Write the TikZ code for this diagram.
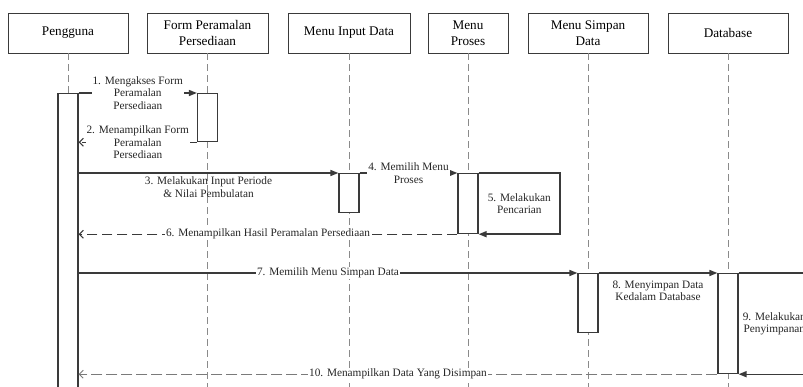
\documentclass[tikz,border=0pt]{standalone}
\usepackage{fontspec}
\setmainfont{Liberation Serif}
\usetikzlibrary{arrows.meta,calc}

\definecolor{ink}{HTML}{3A3A3A}
\definecolor{lifegray}{HTML}{8A8A8A}
\definecolor{retgray}{HTML}{7A7A7A}

\tikzset{
  headbox/.style={draw=ink, line width=0.9pt, fill=white, minimum height=40pt,
    align=center, font=\fontsize{13.2}{16.5}\selectfont, inner sep=2pt},
  actbar/.style={draw=ink, line width=1.2pt, fill=white, minimum width=20pt,
    inner sep=0pt, anchor=north},
  lifeline/.style={draw=lifegray, line width=0.9pt, dash pattern=on 7pt off 4pt},
  callmsg/.style={draw=ink, line width=1.4pt, -{Triangle[length=8pt,width=6pt]}},
  retmsg/.style={draw=ink, line width=1.1pt, dash pattern=on 10pt off 5pt,
    -{Straight Barb[length=4pt,width=8pt]}},
  retlight/.style={draw=retgray, line width=0.9pt, dash pattern=on 11pt off 4pt,
    -{Straight Barb[length=4pt,width=8pt]}},
  msglabel/.style={font=\fontsize{11.3}{12.5}\selectfont, align=center,
    inner sep=1pt, text=black!85},
  onlabel/.style={msglabel, fill=white},
}

\begin{document}
\begin{tikzpicture}[x=1pt,y=-1pt]
\useasboundingbox (0,0) rectangle (803,387);
\clip (0,0) rectangle (803,387);
\fill[white] (0,0) rectangle (803,387);

% participants
\node[headbox, minimum width=120pt] (peng) at (68,33)    {Pengguna};
\node[headbox, minimum width=121pt] (form) at (207.5,33) {Form Peramalan\\Persediaan};
\node[headbox, minimum width=122pt] (inp)  at (349,33)   {Menu Input Data};
\node[headbox, minimum width=80pt]  (pros) at (468,33)   {Menu\\Proses};
\node[headbox, minimum width=120pt] (simp) at (588,33)   {Menu Simpan\\Data};
\node[headbox, minimum width=120pt] (db)   at (728,33)   {Database};

\coordinate (bottom) at (0,400);

% lifelines
\foreach \p in {peng,form,inp,pros,simp,db}
  \draw[lifeline] (\p.south) -- (\p.south |- bottom);

% activation bars
\node[actbar, minimum height=320pt] (pA)  at (68,93)    {};
\node[actbar, minimum height=48pt]  (fA)  at (207.5,93) {};
\node[actbar, minimum height=39pt]  (iA)  at (349,173)  {};
\node[actbar, minimum height=60pt]  (prA) at (468,173)  {};
\node[actbar, minimum height=59pt]  (sA)  at (588,273)  {};
\node[actbar, minimum height=100pt] (dA)  at (728,273)  {};

\coordinate (loopA) at (560,173);
\coordinate (loopB) at (810,273);

% 1
\draw[callmsg] (pA.east |- fA.north) -- (fA.north west)
  node[onlabel, midway] {1. Mengakses Form\\Peramalan\\Persediaan};
% 2
\draw[retmsg] (fA.south west) -- (pA.east |- fA.south)
  node[onlabel, midway] {2. Menampilkan Form\\Peramalan\\Persediaan};
% 3
\draw[callmsg] (pA.east |- iA.north) -- (iA.north west)
  node[msglabel, midway, below=2pt] {3. Melakukan Input Periode\\\& Nilai Pembulatan};
% 4
\draw[callmsg] (iA.north east) -- (prA.north west)
  node[onlabel, midway] {4. Memilih Menu\\Proses};
% 5
\draw[callmsg] (prA.north east) -- (loopA) |- (prA.south east);
\node[msglabel] (l5) at ($(prA.east)!0.5!(loopA |- prA.east)$) {5. Melakukan\\Pencarian};
% 6
\draw[retmsg] (prA.south west) -- (pA.east |- prA.south)
  node[onlabel, midway] {6. Menampilkan Hasil Peramalan Persediaan};
% 7
\draw[callmsg] (pA.east |- sA.north) -- (sA.north west)
  node[onlabel, midway] {7. Memilih Menu Simpan Data};
% 8
\draw[callmsg] (sA.north east) -- (dA.north west)
  node[msglabel, midway, below=6pt] {8. Menyimpan Data\\Kedalam Database};
% 9
\draw[callmsg] (dA.north east) -- (loopB) |- (dA.south east);
\node[msglabel] (l9) at ($(dA.east)!0.5!(loopB |- dA.east)$) {9. Melakukan\\Penyimpanan};
% 10
\draw[retlight] (dA.south west) -- (pA.east |- dA.south)
  node[onlabel, midway] {10. Menampilkan Data Yang Disimpan};
\end{tikzpicture}
\end{document}
